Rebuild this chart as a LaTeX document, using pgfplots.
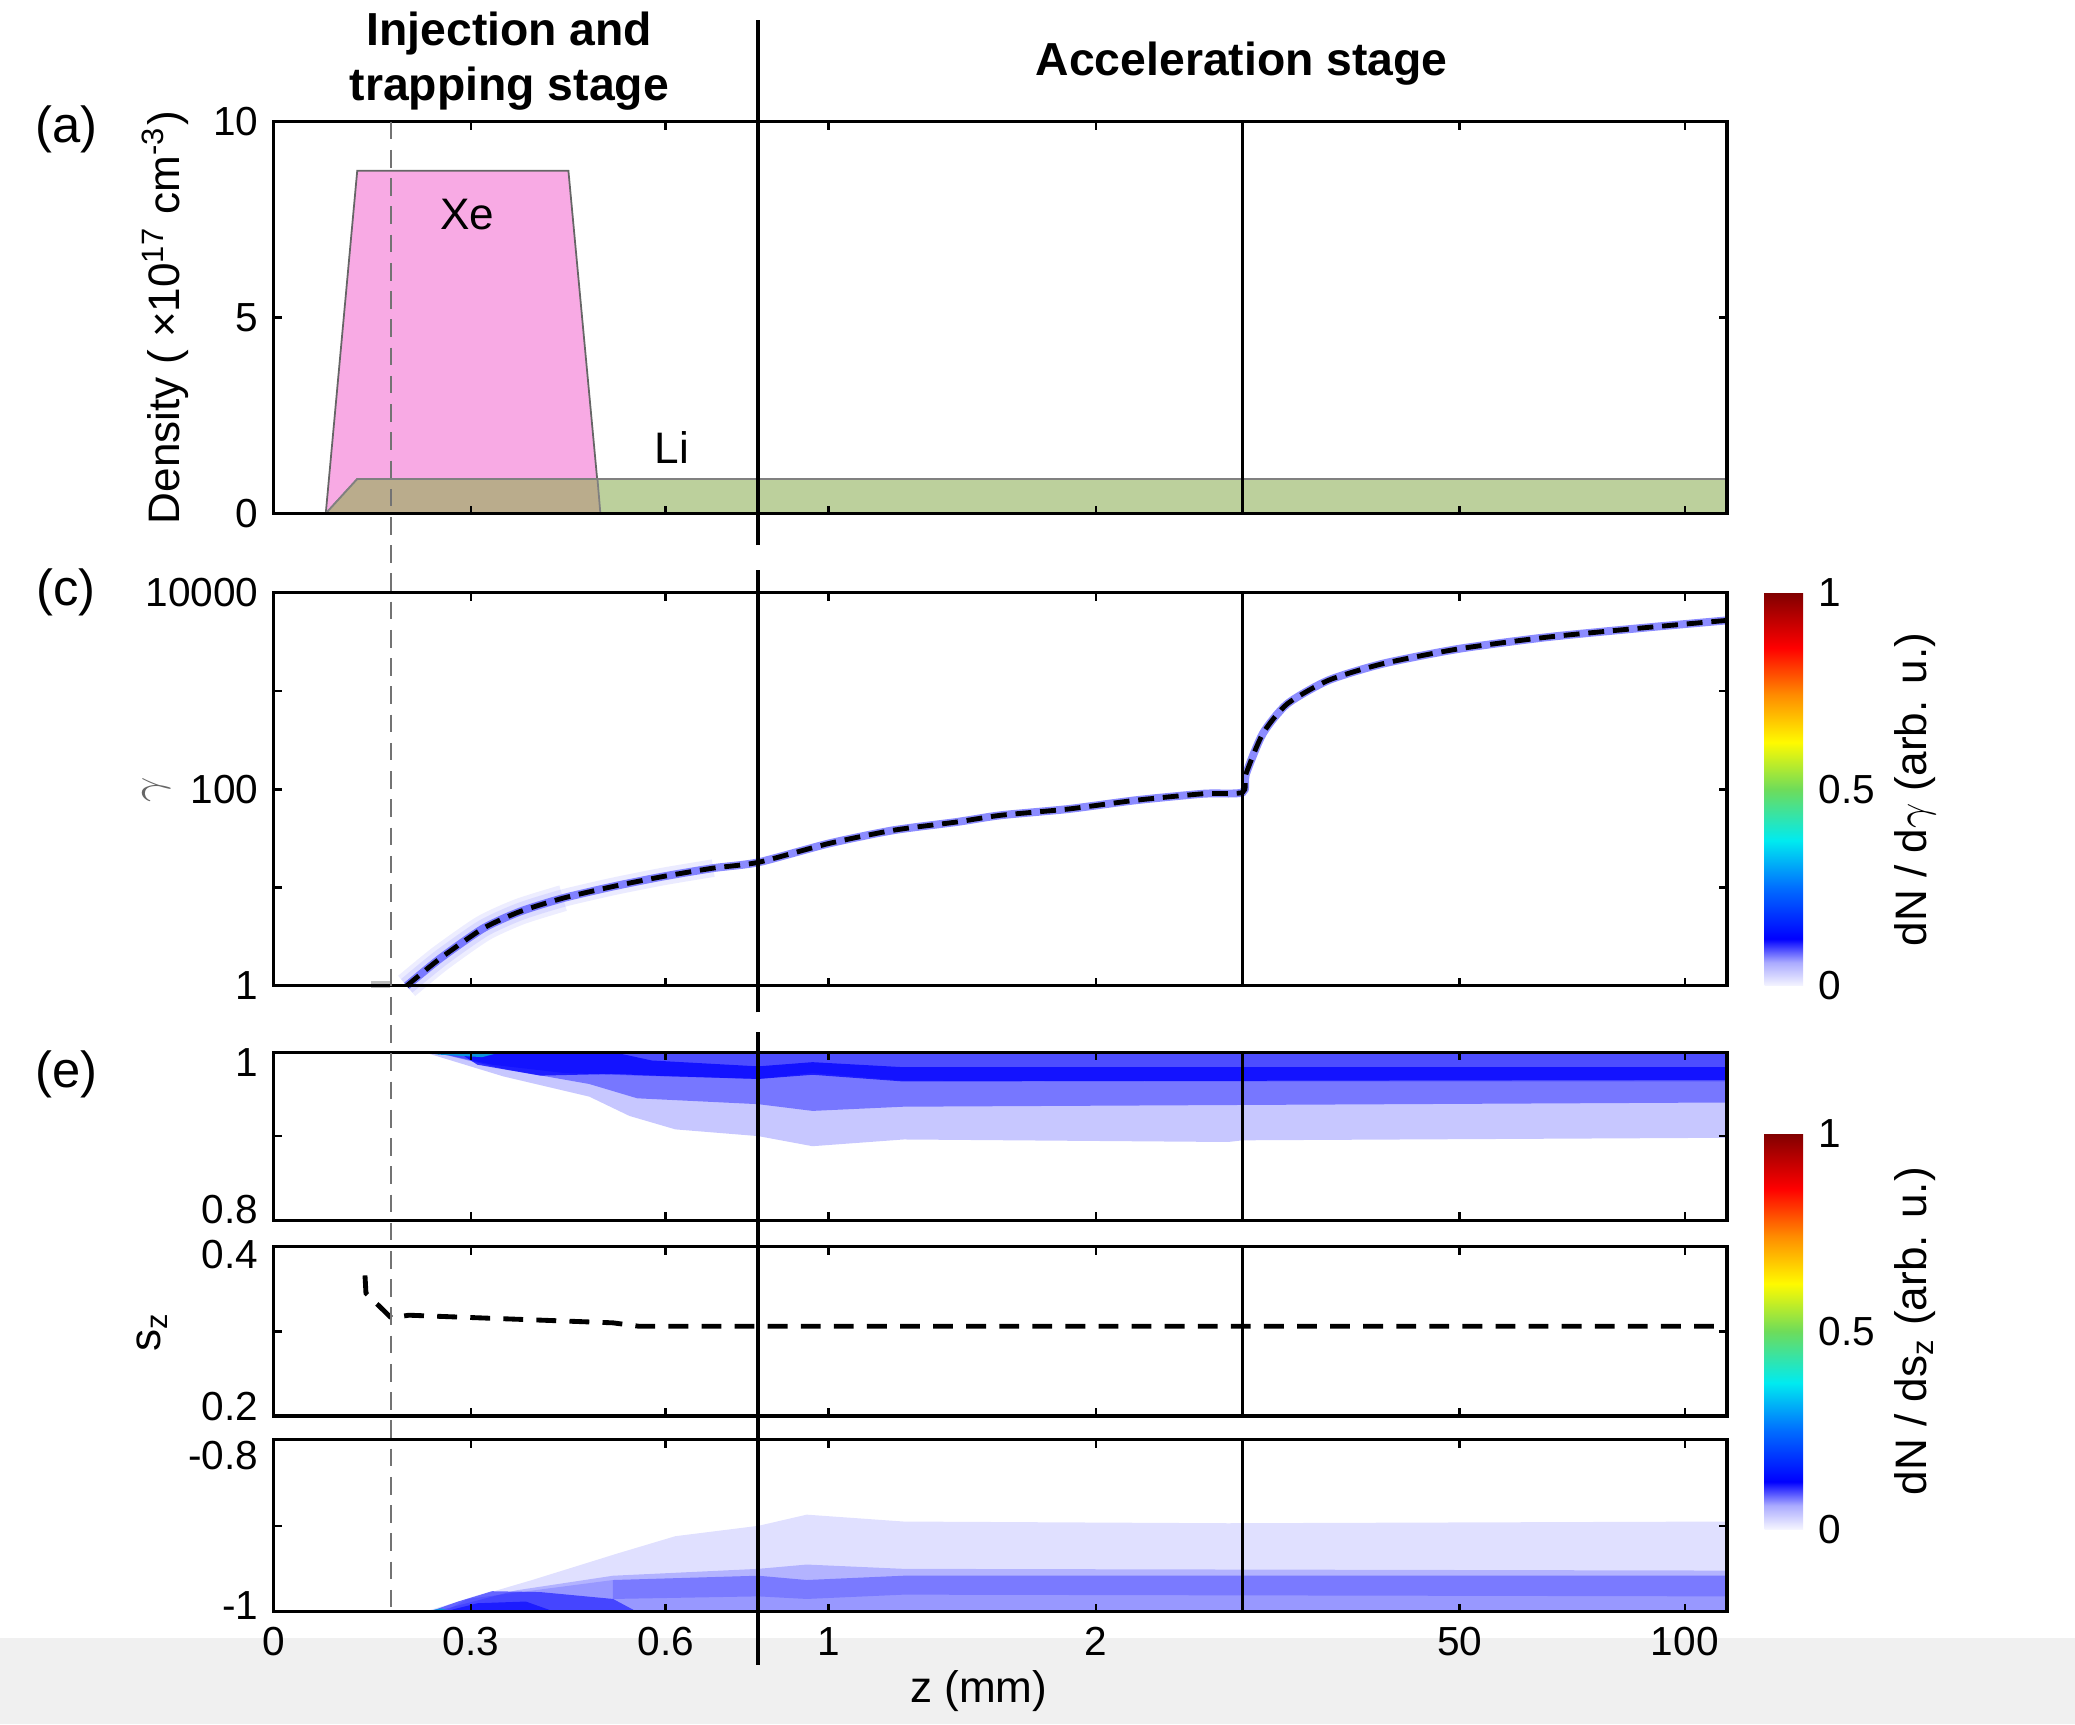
\documentclass[border=0pt]{standalone}
\usepackage{fontspec}
\setmainfont{Liberation Sans}
\usepackage{pgfplots}
\pgfplotsset{compat=1.18}

\definecolor{xepink}{RGB}{248,170,228}
\definecolor{ligreen}{RGB}{188,208,156}
\definecolor{overlap}{RGB}{186,172,140}

\pgfplotsset{
  colormap={whitejet}{rgb255(0pt)=(245,245,255) rgb255(6pt)=(170,170,255)
    rgb255(12pt)=(0,0,255) rgb255(25pt)=(0,110,255) rgb255(37pt)=(0,235,240)
    rgb255(50pt)=(110,220,90) rgb255(62pt)=(255,250,0) rgb255(74pt)=(255,140,0)
    rgb255(86pt)=(255,0,0) rgb255(100pt)=(128,0,0)},
  /pgf/number format/assume math mode=true,
  every tick label/.append style={font=\fontsize{9.2}{10}\selectfont},
  every axis label/.append style={font=\fontsize{10}{12}\selectfont},
  panel/.style={
    scale only axis, width=329.4pt, anchor=north west,
    xmin=0, xmax=3,
    axis line style={line width=0.7pt},
    tick style={black, line width=0.6pt},
    major tick length=1.8pt,
    xtick={0,0.4066,0.809,1.145,1.697,2.448,2.913},
    xticklabels={},
    clip=false, axis on top,
  },
  cbar/.style={
    colorbar, colormap name=whitejet, point meta min=0, point meta max=1,
  },
}

% gamma along z (x in segment units: 0-1 injection, 1-2 and 2-3 acceleration)
\pgfplotstableread{
x g
0.274 1
0.343 1.90
0.432 3.85
0.508 5.71
0.597 7.82
0.701 10.3
0.804 13.0
0.907 15.8
1.000 18.1
1.145 28.1
1.279 38.4
1.410 46.6
1.500 54.5
1.640 63.1
1.780 77.6
1.920 90.4
2.000 93.3
2.007 144
2.042 372
2.092 741
2.177 1288
2.290 1905
2.446 2692
2.630 3548
2.840 4467
3.000 5248
}\gammatab

\begin{document}
\begin{tikzpicture}
\useasboundingbox (0,0) rectangle (470.4pt,-390.9pt);
\fill[black!6] (0,-371.4pt) rectangle (470.4pt,-390.9pt);

% (a) density
\begin{axis}[panel, at={(62.1pt,-27.6pt)}, height=88.8pt,
  ymin=0, ymax=10, ytick={0,5,10}, yticklabels={0,5,10},
  ylabel={Density ( ×10\textsuperscript{17} cm\textsuperscript{-3})},
  ylabel style={at={(axis description cs:-0.075,0.5)}, anchor=center}]
\addplot[fill=xepink, draw=black!60, line width=0.4pt]
  coordinates {(0.107,0) (0.172,8.75) (0.608,8.75) (0.674,0)} --cycle;
\addplot[fill=ligreen, draw=black!50, line width=0.4pt]
  coordinates {(0.107,0) (0.172,0.88) (3,0.88) (3,0)} --cycle;
\addplot[fill=overlap, draw=black!50, line width=0.4pt]
  coordinates {(0.107,0) (0.172,0.88) (0.668,0.88) (0.674,0)} --cycle;
\addplot[black, line width=1pt] coordinates {(1,-0.81) (1,12.6)};
\addplot[black, line width=0.8pt] coordinates {(2,0) (2,10)};
\node[font=\fontsize{10}{12}\selectfont] at (axis cs:0.399,7.64) {Xe};
\node[font=\fontsize{10}{12}\selectfont] at (axis cs:0.822,1.69) {Li};
\node[font=\bfseries\fontsize{10.5}{12.6}\selectfont, align=center]
  at (axis description cs:0.162,1.155) {Injection and\\trapping stage};
\node[font=\bfseries\fontsize{10.5}{12.6}\selectfont]
  at (axis description cs:0.666,1.149) {Acceleration stage};
\node[font=\fontsize{11.5}{13}\selectfont] at (axis description cs:-0.143,0.98) {(a)};
\end{axis}

% (c) gamma
\begin{axis}[panel, cbar, at={(62.1pt,-134.4pt)}, height=89.1pt,
  ymode=log, ymin=1, ymax=10000, ytick={1,10,100,1000,10000},
  yticklabels={1,,100,,10000}, yminorticks=false,
  ylabel={$\gamma$}, ylabel style={at={(axis description cs:-0.081,0.5)}, anchor=center, text=black!60},
  colorbar style={scale only axis, width=8.7pt, height=89.1pt,
    at={(parent axis.north east)}, anchor=north west,
    ytick={0,0.5,1}, yticklabels={0,0.5,1}, major tick length=0pt,
    axis line style={draw=none},
    ylabel={dN / d$\gamma$ (arb. u.)},
    ylabel style={at={(axis description cs:3.93,0.5)}, anchor=center}}]
\addplot[blue, opacity=0.07, line width=6pt, smooth, tension=0.4] table[x=x, y=g, restrict x to domain=0:0.6] {\gammatab};
\addplot[blue, opacity=0.08, line width=4pt, smooth, tension=0.4] table[x=x, y=g, restrict x to domain=0:0.91] {\gammatab};
\addplot[blue, opacity=0.45, line width=1.8pt, smooth, tension=0.4] table[x=x, y=g] {\gammatab};
\addplot[black, line width=1.1pt, dash pattern=on 3.6pt off 2pt, smooth, tension=0.4] table[x=x, y=g] {\gammatab};
\addplot[black!25, line width=1.5pt] coordinates {(0.20,1.04) (0.24,1.04)};
\addplot[black, line width=1pt] coordinates {(1,0.538) (1,16943)};
\addplot[black, line width=0.8pt] coordinates {(2,1) (2,10000)};
\node[font=\fontsize{11.5}{13}\selectfont] at (axis description cs:-0.143,1.0) {(c)};
\end{axis}

% (e) top: s_z near 1
\begin{axis}[panel, at={(62.1pt,-238.5pt)}, height=38.1pt,
  ymin=0.8, ymax=1, ytick={0.8,0.9}, yticklabels={0.8,{}},
  yticklabel style={yshift=2.4pt},
  extra y ticks={1}, extra y tick labels={1},
  extra y tick style={yticklabel style={yshift=-4.8pt}}]
\addplot[draw=none, fill=blue, fill opacity=0.22] coordinates {(0.309,1) (3,1) (3,0.898) (2.0,0.895)
  (1.97,0.893) (1.3,0.896) (1.112,0.888) (1.0,0.9) (0.829,0.908) (0.734,0.924) (0.651,0.947) (0.474,0.971)} --cycle;
\addplot[draw=none, fill=blue, fill opacity=0.4] coordinates {(0.33,1) (3,1) (3,0.94) (1.3,0.935)
  (1.112,0.93) (1.0,0.938) (0.75,0.945) (0.651,0.962) (0.474,0.98)} --cycle;
\addplot[draw=none, fill=blue, fill opacity=0.35] coordinates {(0.33,1) (3,1) (3,0.965) (2,0.965)
  (1.3,0.966) (1.112,0.975) (1.0,0.968) (0.75,0.972) (0.6,0.975) (0.45,0.985)} --cycle;
\addplot[draw=none, fill=blue, fill opacity=0.75] coordinates {(0.38,1) (0.70,1) (0.78,0.99) (1.0,0.983)
  (1.112,0.988) (1.3,0.982) (3,0.982) (3,0.967) (1.3,0.965) (1.112,0.973) (1.0,0.968) (0.78,0.972)
  (0.70,0.974) (0.55,0.972) (0.42,0.985)} --cycle;
\addplot[draw=none, fill=cyan!80!blue] coordinates {(0.31,1) (0.47,1) (0.43,0.994) (0.34,0.997)} --cycle;
\addplot[draw=none, fill=yellow!70!green] coordinates {(0.315,1) (0.36,1) (0.345,0.998)} --cycle;
\addplot[black, line width=0.8pt] coordinates {(2,0.8) (2,1)};
\node[font=\fontsize{11.5}{13}\selectfont] at (axis description cs:-0.143,0.866) {(e)};
\end{axis}

% (e) middle: mean s_z
\begin{axis}[panel, cbar, at={(62.1pt,-282.6pt)}, height=38.4pt,
  ymin=0.2, ymax=0.4, ytick={0.2,0.3}, yticklabels={0.2,{}},
  yticklabel style={yshift=2.1pt},
  extra y ticks={0.4}, extra y tick labels={0.4},
  extra y tick style={yticklabel style={yshift=-3.9pt}},
  ylabel={s\textsubscript{z}}, ylabel style={at={(axis description cs:-0.084,0.5)}, anchor=center},
  colorbar style={scale only axis, width=8.7pt, height=89.7pt,
    at={(parent axis.east)}, anchor=west,
    ytick={0,0.5,1}, yticklabels={0,0.5,1}, major tick length=0pt,
    axis line style={draw=none},
    ylabel={dN / ds\textsubscript{z} (arb. u.)},
    ylabel style={at={(axis description cs:3.93,0.5)}, anchor=center}}]
\addplot[black, line width=1.1pt, dash pattern=on 4.5pt off 3pt] coordinates {
  (0.188,0.366) (0.190,0.345) (0.242,0.316) (0.279,0.319) (0.70,0.310) (0.753,0.306)
  (1.5,0.306) (2.0,0.306) (3.0,0.306)};
\addplot[black, line width=0.8pt] coordinates {(2,0.2) (2,0.4)};
\end{axis}

% (e) bottom: s_z near -1
\begin{axis}[panel, at={(62.1pt,-326.4pt)}, height=39pt,
  ymin=-1, ymax=-0.8, ytick={-1,-0.9}, yticklabels={-1,{}},
  yticklabel style={yshift=1.5pt},
  extra y ticks={-0.8}, extra y tick labels={-0.8},
  extra y tick style={yticklabel style={yshift=-5.1pt}},
  xticklabels={0,0.3,0.6,1,2,50,100},
  xlabel={z (mm)}, xlabel style={at={(axis description cs:0.485,-0.46)}, anchor=center}]
\addplot[draw=none, fill=blue, fill opacity=0.12] coordinates {(0.309,-1) (3,-1) (3,-0.895) (1.97,-0.897)
  (1.3,-0.895) (1.1,-0.887) (1.0,-0.9) (0.829,-0.912) (0.71,-0.932) (0.533,-0.963) (0.4,-0.985)} --cycle;
\addplot[draw=none, fill=blue, fill opacity=0.2] coordinates {(0.33,-1) (3,-1) (3,-0.952) (1.3,-0.95)
  (1.1,-0.945) (1.0,-0.95) (0.7,-0.958) (0.5,-0.975)} --cycle;
\addplot[draw=none, fill=blue, fill opacity=0.15] coordinates {(0.35,-1) (3,-1) (3,-0.958) (1.3,-0.958)
  (1.1,-0.963) (1.0,-0.958) (0.7,-0.963) (0.4,-0.985)} --cycle;
\addplot[draw=none, fill=blue, fill opacity=0.2] coordinates {(0.7,-0.963) (1.0,-0.958) (1.1,-0.963)
  (1.3,-0.958) (3,-0.958) (3,-0.982) (1.3,-0.98) (1.1,-0.985) (1.0,-0.982) (0.7,-0.985)} --cycle;
\addplot[draw=none, fill=blue, fill opacity=0.55] coordinates {(0.32,-1) (0.75,-1) (0.7,-0.985)
  (0.55,-0.977) (0.45,-0.976) (0.38,-0.988)} --cycle;
\addplot[draw=none, fill=blue, fill opacity=0.6] coordinates {(0.35,-1) (0.58,-1) (0.52,-0.988) (0.42,-0.99)} --cycle;
\addplot[draw=none, fill=cyan!80!blue] coordinates {(0.31,-1) (0.37,-1) (0.345,-0.996)} --cycle;
\addplot[black, line width=0.8pt] coordinates {(2,-1) (2,-0.8)};
\addplot[black, line width=1pt] coordinates {(1,-0.326) (1,-1.0615)};
\addplot[black!55, line width=0.5pt, dash pattern=on 4pt off 2.4pt] coordinates {(0.242,0.7323) (0.242,-1)};
\end{axis}
\end{tikzpicture}
\end{document}
